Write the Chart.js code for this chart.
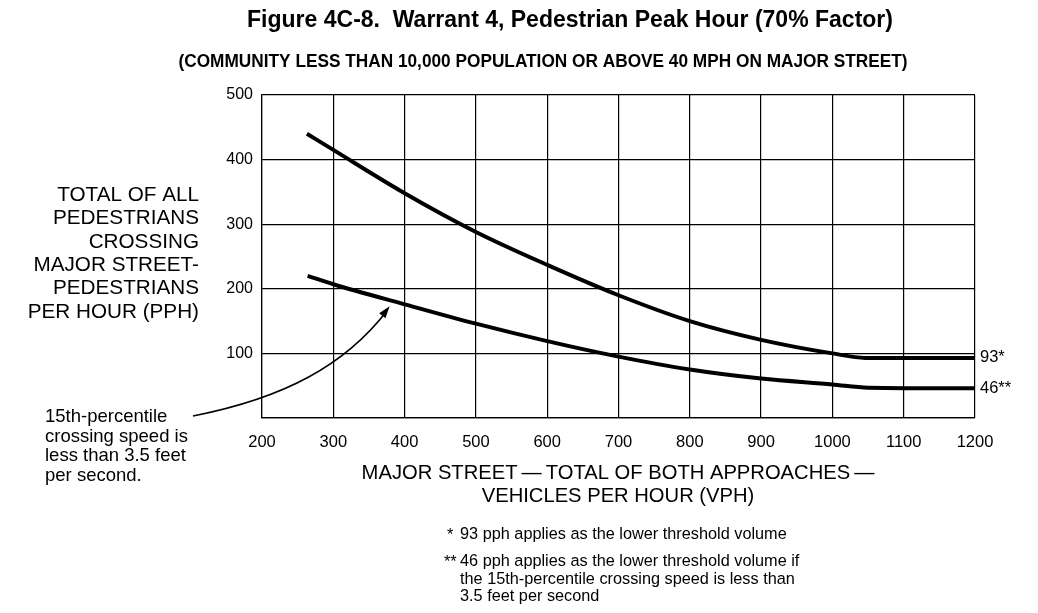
<!DOCTYPE html>
<html>
<head>
<meta charset="utf-8">
<script src="https://cdn.jsdelivr.net/npm/chart.js@4"></script>
<style>
  html, body { margin: 0; padding: 0; background: #fff; }
  #wrap { width: 1038px; height: 613px; position: relative; }
</style>
</head>
<body>
<div id="wrap"><canvas id="chart" width="1038" height="613"></canvas></div>
<script>
// Warrant 4, Pedestrian Peak Hour (70% factor)

const xTicks = [200, 300, 400, 500, 600, 700, 800, 900, 1000, 1100, 1200];
const yTicks = [100, 200, 300, 400, 500];

// upper curve (normal crossing speed), floor at 93 pph
const normalVph = [263, 300, 400, 500, 600, 700, 800, 900, 1000, 1046, 1200];
const normalPph = [440, 415, 348, 288, 237, 190, 150, 121, 100, 93, 93];

// lower curve (15th-percentile speed < 3.5 ft/s), floor at 46 pph
const slowVph = [264, 300, 400, 500, 600, 700, 800, 900, 1000, 1050, 1200];
const slowPph = [220, 207, 176, 146, 119, 95, 75, 61, 52, 47, 46];

const FONT = '"Liberation Sans", Arial, Helvetica, sans-serif';

const toXY = (xs, ys) => xs.map((x, i) => ({ x, y: ys[i] }));

// ─── Text + arrow overlay ────────────────────────────────────────────────────

function fitText(ctx, text, x, y, width, font, align) {
  ctx.save();
  ctx.font = font;
  const w = ctx.measureText(text).width;
  const k = width / w;
  ctx.translate(x, y);
  ctx.scale(k, 1);
  ctx.textAlign = align || 'left';
  ctx.fillText(text, 0, 0);
  ctx.restore();
}

const overlay = {
  id: 'overlay',
  afterDraw(chart) {
    const ctx = chart.ctx;
    const sx = chart.scales.x, sy = chart.scales.y;
    ctx.save();
    ctx.fillStyle = '#000';
    ctx.textBaseline = 'middle';

    // title + subtitle
    ctx.textAlign = 'center';
    ctx.font = 'bold 23px ' + FONT;
    ctx.fillText('Figure 4C-8.  Warrant 4, Pedestrian Peak Hour (70% Factor)', 570, 21);
    fitText(ctx, '(COMMUNITY LESS THAN 10,000 POPULATION OR ABOVE 40 MPH ON MAJOR STREET)',
      543, 62, 729, 'bold 18px ' + FONT, 'center');

    // y-axis title
    ctx.textAlign = 'right';
    ctx.font = '20.7px ' + FONT;
    ['TOTAL OF ALL', 'PEDESTRIANS', 'CROSSING', 'MAJOR STREET-', 'PEDESTRIANS', 'PER HOUR (PPH)']
      .forEach((t, i) => ctx.fillText(t, 199, 195 + i * 23.4));

    // x-axis title
    ctx.textAlign = 'center';
    ctx.font = '20.2px ' + FONT;
    ctx.fillText('MAJOR STREET\u2009\u2014\u2009TOTAL OF BOTH APPROACHES\u2009\u2014', 618, 473);
    ctx.fillText('VEHICLES PER HOUR (VPH)', 618, 496);

    // floor labels at right end
    ctx.textAlign = 'left';
    ctx.font = '16.5px ' + FONT;
    ctx.fillText('93*', sx.right + 5, sy.getPixelForValue(93));
    ctx.fillText('46**', sx.right + 5, sy.getPixelForValue(46));

    // annotation
    ctx.font = '18.5px ' + FONT;
    ['15th-percentile', 'crossing speed is', 'less than 3.5 feet', 'per second.']
      .forEach((t, i) => ctx.fillText(t, 45, 417 + i * 19.6));

    // arrow from annotation to the lower curve
    const ex = sx.getPixelForValue(379), ey = sy.getPixelForValue(176) + 2;
    ctx.strokeStyle = '#000';
    ctx.lineWidth = 1.6;
    ctx.beginPath();
    ctx.moveTo(193, 416);
    ctx.bezierCurveTo(285, 398, 345, 365, ex - 3, ey + 5);
    ctx.stroke();
    const ang = Math.atan2(ey + 5 - 365, ex - 3 - 345);
    ctx.beginPath();
    ctx.moveTo(ex, ey);
    ctx.lineTo(ex - 12 * Math.cos(ang) + 4 * Math.sin(ang), ey - 12 * Math.sin(ang) - 4 * Math.cos(ang));
    ctx.lineTo(ex - 12 * Math.cos(ang) - 4 * Math.sin(ang), ey - 12 * Math.sin(ang) + 4 * Math.cos(ang));
    ctx.closePath();
    ctx.fill();

    // footnotes
    ctx.font = '16.3px ' + FONT;
    ctx.fillText('*', 447, 536);
    ctx.fillText('93 pph applies as the lower threshold volume', 460, 535);
    ctx.fillText('**', 444, 563);
    ['46 pph applies as the lower threshold volume if',
     'the 15th-percentile crossing speed is less than',
     '3.5 feet per second']
      .forEach((t, i) => ctx.fillText(t, 460, 562 + i * 17.5));

    ctx.restore();
  },
};

// ─── Chart ───────────────────────────────────────────────────────────────────

const lineStyle = {
  borderColor: '#000',
  borderWidth: 4,
  pointRadius: 0,
  fill: false,
  cubicInterpolationMode: 'monotone',
};

new Chart(document.getElementById('chart'), {
  type: 'line',
  data: {
    datasets: [
      { label: 'Normal', data: toXY(normalVph, normalPph), ...lineStyle },
      { label: 'Slow', data: toXY(slowVph, slowPph), ...lineStyle },
    ],
  },
  options: {
    responsive: false,
    animation: false,
    layout: { padding: { left: 0, right: 63, top: 95, bottom: 0 } },
    plugins: { legend: { display: false }, tooltip: { enabled: false } },
    scales: {
      x: {
        type: 'linear',
        min: 200,
        max: 1200,
        afterBuildTicks: (s) => { s.ticks = xTicks.map((v) => ({ value: v })); },
        afterFit: (s) => { s.height = 195; },
        grid: { color: '#000', lineWidth: 1.2, drawTicks: false },
        border: { color: '#000', width: 1.2 },
        ticks: {
          color: '#000',
          padding: 15,
          maxRotation: 0,
          font: { family: FONT, size: 16.5 },
          callback: (v) => String(v),
        },
      },
      y: {
        min: 0,
        max: 500,
        afterBuildTicks: (s) => { s.ticks = [0, ...yTicks].map((v) => ({ value: v })); },
        afterFit: (s) => { s.width = 262; },
        grid: { color: '#000', lineWidth: 1.2, drawTicks: false },
        border: { color: '#000', width: 1.2 },
        ticks: {
          color: '#000',
          padding: 9,
          font: { family: FONT, size: 16 },
          callback: (v) => (v === 0 ? '' : String(v)),
        },
      },
    },
  },
  plugins: [overlay],
});
</script>
</body>
</html>
